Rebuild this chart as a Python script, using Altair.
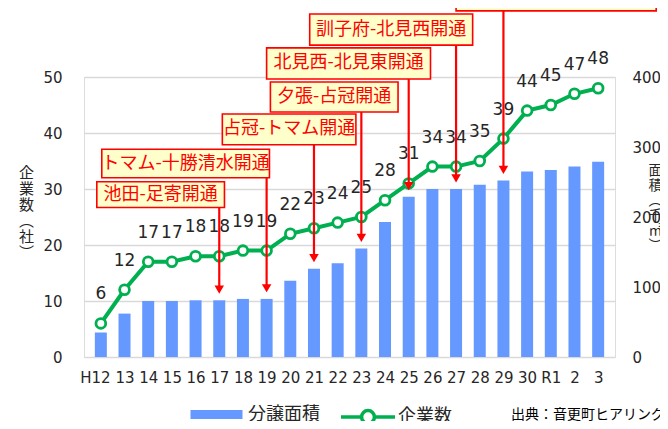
import json
import altair as alt
import pandas as pd

FONT = "DejaVu Sans, Noto Sans CJK JP"
CJK = "Noto Sans CJK JP"

# ---- data ----
categories = ["H12", "13", "14", "15", "16", "17", "18", "19", "20", "21", "22",
              "23", "24", "25", "26", "27", "28", "29", "30", "R1", "2", "3"]
area = [35, 62, 80, 80, 81, 81, 83, 83, 109, 126, 134, 155, 193, 229, 240, 240,
        246, 252, 265, 267, 272, 279]                      # 分譲面積 (千㎡)
companies = [6, 12, 17, 17, 18, 18, 19, 19, 22, 23, 24, 25, 28, 31, 34, 34, 35,
             39, 44, 45, 47, 48]                           # 企業数 (社)

ann_labels = ["池田-足寄開通", "トマム-十勝清水開通", "占冠-トマム開通", "夕張-占冠開通",
              "北見西-北見東開通", "訓子府-北見西開通", "陸別小利別-訓子府開通"]
ann_categories = ["17", "19", "21", "23", "25", "27", "29"]

# annotation box layout (category-index units / left-axis units)
box_left = [-0.17, 0.04, 5.13, 7.16, 7.0, 8.82, 15.0]
box_right = [5.22, 7.12, 10.77, 12.55, 13.92, 15.7, 23.45]
box_top = [31.3, 37.1, 43.4, 49.1, 55.2, 61.25, 67.3]
box_bottom = [26.7, 32.0, 37.9, 43.75, 49.65, 55.7, 61.8]

source_text = "出典：音更町ヒアリング"
bar_name = "分譲面積"
line_name = "企業数"

# ---- tables ----
idx = list(range(len(categories)))
df = pd.DataFrame({"idx": idx, "cat": categories, "area": area,
                   "companies": companies,
                   "s1": [bar_name] * len(idx), "s2": [line_name] * len(idx)})

RATIO = 400 / 50  # right-axis units per left-axis unit
GAP = 1.9
ann_idx = [categories.index(c) for c in ann_categories]
ann = pd.DataFrame({
    "label": ann_labels,
    "ax": ann_idx,
    "left": box_left, "right": box_right,
    "top": box_top, "bottom": box_bottom,
})
ann["cx"] = (ann["left"] + ann["right"]) / 2
ann["cy"] = (ann["top"] + ann["bottom"]) / 2
ann["tip"] = [area[i] / RATIO + GAP for i in ann_idx]

label_expr = json.dumps(categories) + "[datum.value]"
xscale = alt.Scale(domain=[-0.5, len(categories) - 0.5], nice=False, zero=False)
xaxis = alt.Axis(values=idx, labelExpr=label_expr, grid=False, ticks=False,
                 domain=False, labelFontSize=15, labelColor="#262626",
                 labelPadding=13, labelOverlap=False, labelFont=FONT,
                 labelBound=False,
                 labelOffset={"condition": {"test": "datum.value == 0", "value": -6},
                              "value": 0})


def X(field="idx"):
    return alt.X(f"{field}:Q", scale=xscale, title=None, axis=xaxis)


left_scale = alt.Scale(domain=[0, 50], nice=False, zero=True)
left_axis = alt.Axis(orient="left", values=[0, 10, 20, 30, 40, 50], grid=True,
                     gridColor="#D9D9D9", gridWidth=1.3, ticks=False, domain=False,
                     labelFontSize=15, labelColor="#262626", labelPadding=22,
                     labelFont=FONT,
                     title=["企", "業", "数", "︵", "社", "︶"], titleAngle=0,
                     titleFontSize=15, titleFontWeight="normal", titleColor="#262626",
                     titleLineHeight=16, titleX=-58, titleY=88, titleAlign="center",
                     titleBaseline="top", titleFont=CJK)


def YL(field):
    return alt.Y(f"{field}:Q", scale=left_scale, axis=left_axis)


bars = alt.Chart(df).mark_bar(size=12, color="#6699FF").encode(
    x=X(),
    y=alt.Y("area:Q", scale=alt.Scale(domain=[0, 400], nice=False),
            axis=alt.Axis(orient="right", values=[0, 100, 200, 300, 400], grid=False,
                          ticks=False, domain=False, labelFontSize=15,
                          labelColor="#262626", labelPadding=17, labelFont=FONT,
                          title=["面", "積", "︵", "千", "㎡", "︶"], titleAngle=0,
                          titleFontSize=14, titleFontWeight="normal",
                          titleColor="#262626", titleLineHeight=15, titleX=40,
                          titleY=86, titleAlign="center", titleBaseline="top",
                          titleFont=CJK)),
    fill=alt.Fill("s1:N", scale=alt.Scale(range=["#6699FF"]),
                  legend=alt.Legend(orient="none", legendX=116, legendY=321,
                                    title=None, padding=0,
                                    symbolType="M-1.6,-0.28H1.6V0.28H-1.6Z",
                                    symbolSize=1056, symbolStrokeWidth=0,
                                    labelFontSize=18, labelColor="#262626",
                                    labelFont=CJK, labelOffset=15)),
)

line = alt.Chart(df).mark_line(strokeWidth=4).encode(
    x=X(),
    y=YL("companies"),
    stroke=alt.Stroke("s2:N", scale=alt.Scale(range=["#00B050"]),
                      legend=alt.Legend(orient="none", legendX=265, legendY=321,
                                        title=None, padding=0,
                                        symbolType="M-1.6,0H-0.38M0.38,0H1.6M0.38,0A0.38,0.38,0,1,1,-0.38,0A0.38,0.38,0,1,1,0.38,0",
                                        symbolSize=1139, symbolStrokeWidth=3.5,
                                        symbolFillColor="white",
                                        labelFontSize=18, labelColor="#262626",
                                        labelFont=CJK, labelOffset=11)),
)

points = alt.Chart(df).mark_point(shape="circle", filled=True, fill="white",
                                  stroke="#00B050", strokeWidth=2.8, size=95,
                                  opacity=1).encode(x=X(), y=YL("companies"))

labels = alt.Chart(df).mark_text(fontSize=17, color="#262626", dy=-29,
                                 font=FONT).encode(
    x=X(), y=YL("companies"), text="companies:Q")

rules = alt.Chart(ann).mark_rule(color="#FF0000", strokeWidth=2.2).encode(
    x=X("ax"), y=YL("bottom"), y2="tip:Q")

heads = alt.Chart(ann).mark_point(shape="triangle-down", filled=True,
                                  color="#FF0000", size=90, opacity=1).encode(
    x=X("ax"), y=YL("tip"))

boxes = alt.Chart(ann).mark_rect(fill="#FFFFCC", stroke="#FF0000",
                                 strokeWidth=1.6).encode(
    x=X("left"), x2="right:Q", y=YL("top"), y2="bottom:Q")

box_text = alt.Chart(ann).mark_text(fontSize=18, color="#FF0000",
                                    font=CJK).encode(
    x=X("cx"), y=YL("cy"), text="label:N")

source = alt.Chart(pd.DataFrame({"t": [source_text]})).mark_text(
    fontSize=14, color="#000000", align="left", baseline="middle", font=CJK
).encode(text="t:N", x=alt.value(427), y=alt.value(338))

inner = alt.layer(line, points, labels, rules, heads, boxes, box_text, source)

chart = alt.layer(bars, inner).resolve_scale(
    y="independent", fill="independent", stroke="independent"
).properties(
    width=531, height=280,
    padding={"left": 76, "top": 69, "right": 45, "bottom": 64},
    autosize=alt.AutoSizeParams(type="none"),
).configure_view(stroke=None).configure(font=CJK)

chart.save("out.html", embed_options={"renderer": "svg", "actions": False})
